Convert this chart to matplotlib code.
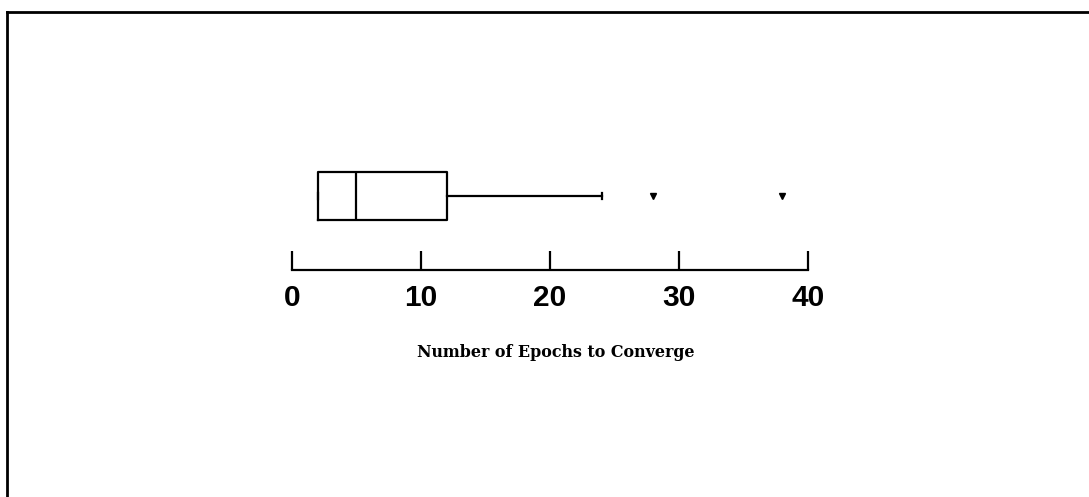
import matplotlib.pyplot as plt
from matplotlib.lines import Line2D

# Summary statistics of epochs needed to converge
q1 = 2
median = 5
q3 = 12
whisker_low = 2
whisker_high = 24
outliers = [28, 38]

tick_values = [0, 10, 20, 30, 40]
x_label = "Number of Epochs to Converge"

fig = plt.figure(figsize=(10.89, 4.97), dpi=100)
ax = fig.add_axes([0.268, 0.4567, 0.474, 0.2213])

stats = [{
    "q1": q1, "med": median, "q3": q3,
    "whislo": whisker_low, "whishi": whisker_high,
    "fliers": outliers,
}]
ax.bxp(
    stats,
    positions=[0.673],
    widths=[0.436],
    vert=False,
    showcaps=True,
    boxprops=dict(color="black", linewidth=1.6),
    medianprops=dict(color="black", linewidth=1.6),
    whiskerprops=dict(color="black", linewidth=1.6),
    capprops=dict(color="black", linewidth=1.6),
    capwidths=[0.05],
    flierprops=dict(marker="v", markersize=5, markerfacecolor="black",
                    markeredgecolor="black"),
)

ax.set_xlim(0, 40)
ax.set_ylim(0, 1)
ax.set_xticks(tick_values)
ax.set_xticklabels([str(v) for v in tick_values], family="Liberation Sans",
                   fontweight="bold", fontsize=21.5)
ax.set_yticks([])
for side in ("top", "right", "left"):
    ax.spines[side].set_visible(False)
ax.spines["bottom"].set_linewidth(1.6)
ax.tick_params(axis="x", direction="in", length=14, width=1.6, pad=10)
ax.set_xlabel(x_label, family="DejaVu Serif", fontweight="bold",
              fontsize=11.4, labelpad=23)
ax.xaxis.label.set_x(0.512)
ax.patch.set_visible(False)

# Outer frame: top and left edges only
fig.add_artist(Line2D([7 / 1089, 1.0], [1 - 12 / 497, 1 - 12 / 497],
                      transform=fig.transFigure, color="black", linewidth=2))
fig.add_artist(Line2D([7 / 1089, 7 / 1089], [0.0, 1 - 12 / 497],
                      transform=fig.transFigure, color="black", linewidth=2))

fig.savefig("out.png", dpi=100)
